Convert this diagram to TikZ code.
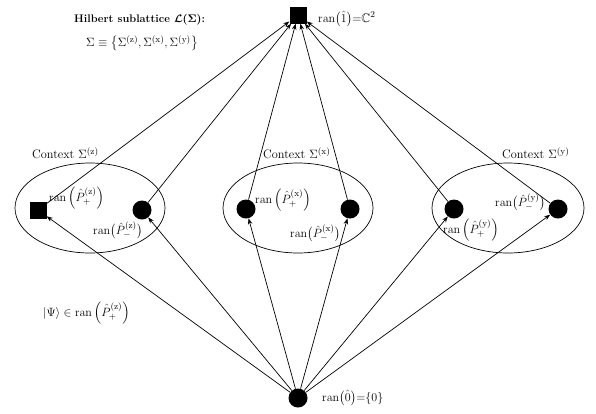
\documentclass[tikz,border=0pt]{standalone}
\usepackage{amsmath,amssymb,bm}
\usetikzlibrary{arrows.meta}
\begin{document}
\begin{tikzpicture}[x=1pt,y=-1pt, font=\fontsize{12.3}{14}\selectfont,
  dot/.style={circle,fill=black,inner sep=0pt,minimum size=19pt},
  sq/.style={rectangle,fill=black,inner sep=0pt,minimum size=17pt},
  edge/.style={-{Stealth[length=6pt,width=4.5pt]},line width=0.7pt},
  lbl/.style={inner sep=0pt,anchor=west},
  ctx/.style={line width=0.7pt}]
\useasboundingbox (0,0) rectangle (596,413);
% contexts
\draw[ctx] (90,208) ellipse [x radius=75pt, y radius=45pt];
\draw[ctx] (298,208) ellipse [x radius=75pt, y radius=45pt];
\draw[ctx] (508,208) ellipse [x radius=76pt, y radius=45pt];
% nodes
\node[sq] (top) at (298,15) {};
\node[dot] (bot) at (298,398) {};
\node[sq] (zp) at (38,210) {};
\node[dot] (zm) at (142,210) {};
\node[dot] (xp) at (246,209) {};
\node[dot] (xm) at (350,209) {};
\node[dot] (yp) at (454,209) {};
\node[dot] (ym) at (558,209) {};
% edges
\foreach \n in {zp,zm,xp,xm,yp,ym}{
  \draw[edge] (bot) -- (\n);
  \draw[edge] (\n) -- (top);
}
% labels
\node[lbl,font=\fontsize{11}{13}\selectfont] (title) at (74,20) {\textbf{Hilbert sublattice $\bm{\mathcal{L}(\Sigma)}$:}};
\node[lbl] (sig) at (86,43) {$\Sigma\equiv\left\{\Sigma^{(\mathrm{z})},\Sigma^{(\mathrm{x})},\Sigma^{(\mathrm{y})}\right\}$};
\node[lbl] (ltop) at (318,19) {$\mathrm{ran}\bigl(\hat{1}\bigr)\mathrm{=}\mathbb{C}^{2}$};
\node[lbl] (lbot) at (322,398) {$\mathrm{ran}\bigl(\hat{0}\bigr)\mathrm{=}\{0\}$};
\node[lbl] (cz) at (32,153) {Context $\Sigma^{(\mathrm{z})}$};
\node[lbl] (cx) at (263,153) {Context $\Sigma^{(\mathrm{x})}$};
\node[lbl] (cy) at (502,153) {Context $\Sigma^{(\mathrm{y})}$};
\node[lbl] (lzp) at (49,198) {$\mathrm{ran}\left(\hat{P}_{+}^{(\mathrm{z})}\right)$};
\node[lbl] (lzm) at (93,230) {$\mathrm{ran}\bigl(\hat{P}_{-}^{(\mathrm{z})}\bigr)$};
\node[lbl] (lxp) at (255,200) {$\mathrm{ran}\left(\hat{P}_{+}^{(\mathrm{x})}\right)$};
\node[lbl] (lxm) at (290,233) {$\mathrm{ran}\bigl(\hat{P}_{-}^{(\mathrm{x})}\bigr)$};
\node[lbl] (lym) at (495,202) {$\mathrm{ran}\bigl(\hat{P}_{-}^{(\mathrm{y})}\bigr)$};
\node[lbl] (lyp) at (443,230) {$\mathrm{ran}\left(\hat{P}_{+}^{(\mathrm{y})}\right)$};
\node[lbl] (psi) at (43,313) {$|\Psi\rangle\in\mathrm{ran}\left(\hat{P}_{+}^{(\mathrm{z})}\right)$};
\end{tikzpicture}
\end{document}
